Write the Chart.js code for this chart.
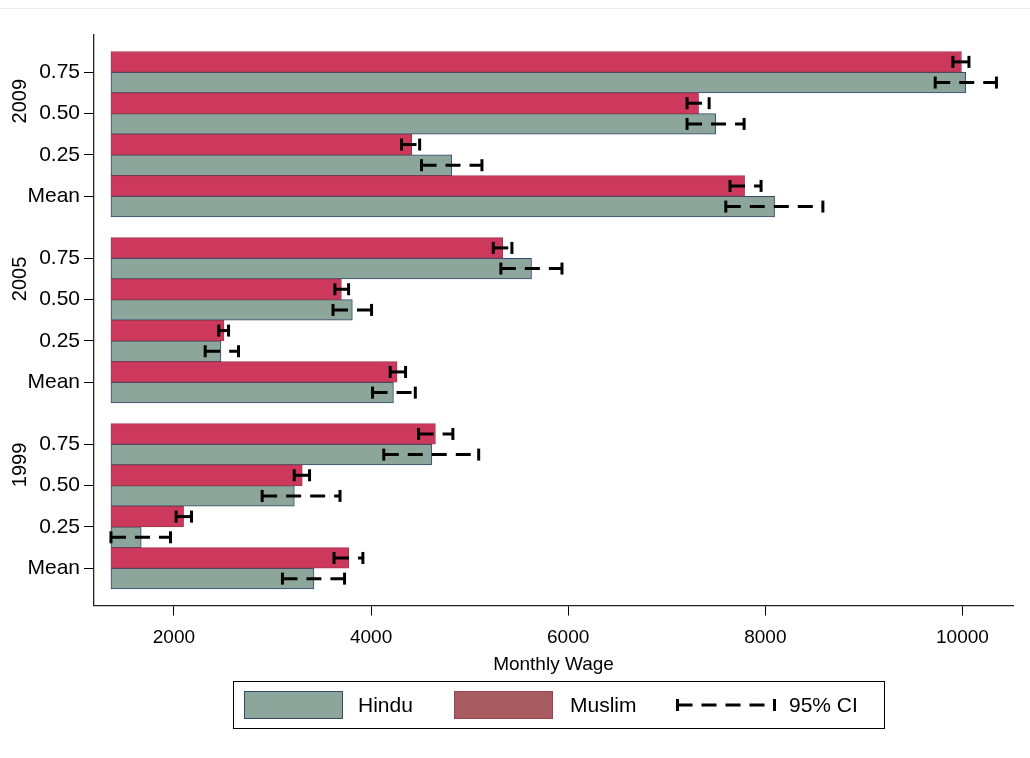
<!DOCTYPE html>
<html>
<head>
<meta charset="utf-8">
<title>Monthly wage by religion</title>
<script src="https://cdn.jsdelivr.net/npm/chart.js@4.4.1/dist/chart.umd.min.js"></script>
<style>
  html, body { margin: 0; padding: 0; background: #fff; }
  #wrap { position: relative; width: 1030px; height: 758px; overflow: hidden;
          font-family: "Liberation Sans", Arial, sans-serif; color: #000; }
  #topline { position: absolute; left: 0; top: 8px; width: 1030px; height: 1px; background: #ececec; }
  #chartBox { position: absolute; left: 0; top: 0; width: 1030px; height: 758px; }
  #legend { position: absolute; left: 233px; top: 681px; width: 652px; height: 48px;
            border: 1px solid #000; box-sizing: border-box; }
  .sw { position: absolute; top: 9px; width: 99px; height: 28px; box-sizing: border-box; }
  .lt { position: absolute; top: 0; height: 46px; line-height: 46px; font-size: 21px; white-space: nowrap; }
  #ciKey { position: absolute; left: 441px; top: 16px; }
</style>
</head>
<body>
<div id="wrap">
  <div id="topline"></div>
  <div id="chartBox"><canvas id="c"></canvas></div>
  <div id="legend">
    <div class="sw" style="left:10px;background:#8CA69B;border:1px solid #34496A;"></div>
    <div class="lt" style="left:124px;">Hindu</div>
    <div class="sw" style="left:220px;background:#A65C60;border:1px solid #9A4450;"></div>
    <div class="lt" style="left:336px;">Muslim</div>
    <svg id="ciKey" width="102" height="14" viewBox="0 0 102 14">
      <line x1="2.5" y1="7" x2="99.5" y2="7" stroke="#000" stroke-width="3" stroke-dasharray="15 9"/>
      <line x1="2.5" y1="1" x2="2.5" y2="13" stroke="#000" stroke-width="3"/>
      <line x1="99.5" y1="1" x2="99.5" y2="13" stroke="#000" stroke-width="3"/>
    </svg>
    <div class="lt" style="left:555px;">95% CI</div>
  </div>
</div>
<script>
// Survey years (bottom to top) and the statistic shown in each row
const years = ['1999', '2005', '2009'];
const statLabels = ['Mean', '0.25', '0.50', '0.75'];

// Monthly wage per year: [Mean, 25th pct, median, 75th pct]
const hinduWage  = [[3421, 1668, 3221, 4617], [4227, 2477, 3810, 5628], [8094, 4819, 7496, 10034]];
const muslimWage = [[3773, 2098, 3302, 4653], [4264, 2508, 3699, 5337], [7790, 4412, 7323, 9990]];

// 95% confidence intervals, same layout as above
const hinduCiLow   = [[3101, 1361, 2895, 4129], [4015, 2317, 3614, 5317], [7599, 4512, 7206, 9724]];
const hinduCiHigh  = [[3731, 1965, 3685, 5092], [4449, 2655, 4005, 5937], [8584, 5125, 7785, 10345]];
const muslimCiLow  = [[3624, 2022, 3220, 4482], [4194, 2455, 3633, 5240], [7642, 4309, 7206, 9903]];
const muslimCiHigh = [[3917, 2178, 3376, 4830], [4350, 2554, 3772, 5429], [7957, 4493, 7430, 10066]];

// Wage where the bars start, and the labelled wage ticks
const barBase = 1361;
const wageTicks = [2000, 4000, 6000, 8000, 10000];

// Row layout: one unit per statistic, extra gap between years
const groupGap = 1.5;
function rowPos(g, s) { return 1 + g * (statLabels.length - 1 + groupGap) + s; }
// How far below the top row each year caption is centred
const yearCaptionDrop = [0.5, 0.5, 0.7];

const rowValues = [];
const rowNames = [];
years.forEach((yr, g) => statLabels.forEach((s, i) => { rowValues.push(rowPos(g, i)); rowNames.push(s); }));

const muslimBars = [], hinduBars = [];
years.forEach((yr, g) => statLabels.forEach((s, i) => {
  muslimBars.push({ x: [barBase, muslimWage[g][i]], y: rowPos(g, i) });
  hinduBars.push({ x: [barBase, hinduWage[g][i]], y: rowPos(g, i) });
}));

// Each row holds two bars, each half a row tall: Muslim above, Hindu below
const halfBar = 0.25;
function ciDataset(lo, hi, y) {
  return {
    type: 'line',
    data: [{ x: lo, y: y }, { x: hi, y: y }],
    borderColor: '#000',
    borderWidth: 3,
    borderDash: [15, 9],
    borderCapStyle: 'butt',
    pointStyle: 'line',
    rotation: 90,
    pointRadius: 6,
    pointHoverRadius: 6,
    pointBorderWidth: 3,
    pointBorderColor: '#000',
    pointBackgroundColor: '#000',
    fill: false,
    tension: 0,
    clip: false,
    order: -1,
    xAxisID: 'x',
    yAxisID: 'y'
  };
}
const ciSets = [];
years.forEach((yr, g) => statLabels.forEach((s, i) => {
  const p = rowPos(g, i);
  ciSets.push(ciDataset(muslimCiLow[g][i], muslimCiHigh[g][i], p + halfBar));
  ciSets.push(ciDataset(hinduCiLow[g][i], hinduCiHigh[g][i], p - halfBar));
}));

const barCommon = {
  type: 'bar',
  indexAxis: 'y',
  categoryPercentage: 1,
  barPercentage: 1,
  borderWidth: 1,
  borderSkipped: false,
  xAxisID: 'x',
  yAxisID: 'y',
  order: 0
};

// Year captions written vertically beside each block of rows
const yearLabels = {
  id: 'yearLabels',
  afterDraw(chart) {
    const { ctx } = chart;
    const yScale = chart.scales.y;
    ctx.save();
    ctx.fillStyle = '#000';
    ctx.font = '20px "Liberation Sans", Arial, sans-serif';
    ctx.textAlign = 'center';
    ctx.textBaseline = 'middle';
    years.forEach((yr, g) => {
      const y = yScale.getPixelForValue(rowPos(g, statLabels.length - 1) - yearCaptionDrop[g]);
      ctx.save();
      ctx.translate(20, y);
      ctx.rotate(-Math.PI / 2);
      ctx.fillText(yr, 0, 0);
      ctx.restore();
    });
    ctx.restore();
  }
};

Chart.defaults.color = '#000';
Chart.defaults.font.family = '"Liberation Sans", Arial, sans-serif';

new Chart(document.getElementById('c'), {
  data: {
    datasets: [
      Object.assign({ label: 'Muslim', data: muslimBars, backgroundColor: '#CD385D', borderColor: '#9E3A4C' }, barCommon),
      Object.assign({ label: 'Hindu', data: hinduBars, backgroundColor: '#8CA69B', borderColor: '#34496A' }, barCommon),
      ...ciSets
    ]
  },
  options: {
    responsive: true,
    maintainAspectRatio: false,
    animation: false,
    events: [],
    layout: { padding: { left: 0, top: 35, right: 17, bottom: 72.5 } },
    plugins: { legend: { display: false }, tooltip: { enabled: false }, title: { display: false } },
    scales: {
      x: {
        type: 'linear',
        position: 'bottom',
        min: 1189,
        max: 10513,
        beginAtZero: false,
        afterBuildTicks(scale) { scale.ticks = wageTicks.map(v => ({ value: v })); },
        afterFit(scale) { scale.height = 80; },
        ticks: { font: { size: 19 }, padding: 11, maxRotation: 0, autoSkip: false,
                 callback: (v) => String(v) },
        grid: { drawOnChartArea: false, drawTicks: true, tickLength: 10, color: '#000', lineWidth: 1 },
        border: { display: true, color: '#222', width: 1.3 },
        title: { display: true, text: 'Monthly Wage', font: { size: 19 }, padding: { top: 4, bottom: 9 } }
      },
      y: {
        type: 'linear',
        position: 'left',
        min: 0.1,
        max: 13.9,
        offset: false,
        afterBuildTicks(scale) { scale.ticks = rowValues.map(v => ({ value: v })); },
        afterFit(scale) { scale.width = 94; },
        ticks: { font: { size: 21 }, padding: 4, autoSkip: false,
                 callback: (v, i) => rowNames[i] },
        grid: { drawOnChartArea: false, drawTicks: true, tickLength: 10, color: '#000', lineWidth: 1, offset: false },
        border: { display: true, color: '#222', width: 1.3 }
      }
    }
  },
  plugins: [yearLabels]
});
</script>
</body>
</html>
